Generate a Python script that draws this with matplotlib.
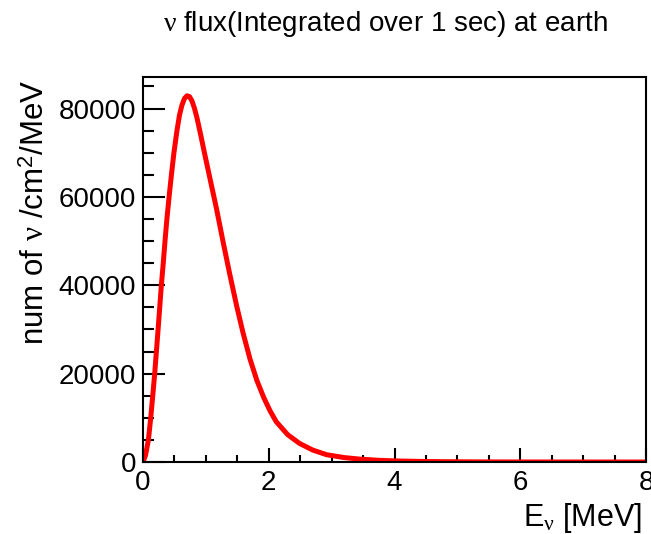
import matplotlib
matplotlib.use("Agg")
import matplotlib.pyplot as plt
from matplotlib.ticker import MultipleLocator

plt.rcParams['font.family'] = ['Liberation Sans', 'DejaVu Sans']
plt.rcParams['mathtext.fontset'] = 'custom'
plt.rcParams['mathtext.rm'] = 'Liberation Serif'
plt.rcParams['mathtext.it'] = 'Liberation Serif:italic'
plt.rcParams['mathtext.sf'] = 'Liberation Sans'

# Neutrino energy [MeV]
energy = [0.0, 0.04, 0.086, 0.123, 0.155, 0.186, 0.213, 0.24, 0.266, 0.292,
          0.322, 0.35, 0.38, 0.415, 0.452, 0.492, 0.54, 0.58, 0.62, 0.66,
          0.70, 0.74, 0.78, 0.82, 0.86, 0.92, 0.977, 1.03, 1.08, 1.168, 1.28,
          1.38, 1.49, 1.59, 1.70, 1.81, 1.92, 2.02, 2.12, 2.30, 2.49, 2.70,
          2.92, 3.20, 3.45, 3.75, 4.08, 4.5, 5.0, 5.5, 6.0, 7.0, 8.0]
# Flux: number of nu / cm^2 / MeV
flux = [0, 1500, 5000, 10000, 15000, 20000, 25000, 30000, 35000, 40000,
        45000, 50000, 55000, 60000, 65000, 70000, 75000, 78500, 80800, 82300,
        82900, 82700, 81700, 80000, 77800, 73900, 70000, 66500, 63200, 57400,
        49400, 42500, 35300, 29300, 23400, 18500, 14600, 11600, 9100, 6200,
        4200, 2700, 1650, 1000, 650, 380, 220, 110, 50, 20, 10, 2, 0]

title = r"$\mathrm{ν}$ flux(Integrated over 1 sec) at earth"
xlabel = r"E$_{\mathrm{ν}}$ [MeV]"
ylabel = r"num of $\mathrm{ν}$ /cm$^{\mathsf{2}}$/MeV"

fig = plt.figure(figsize=(6.51, 5.34), dpi=100)
ax = fig.add_axes([143/651, 1-462/534, (646-143)/651, (462-77)/534])

ax.plot(energy, flux, color='#ff0000', lw=3.6, solid_capstyle='butt',
        solid_joinstyle='round')

ax.set_xlim(0, 8)
ax.set_ylim(0, 87150)

ax.xaxis.set_major_locator(MultipleLocator(2))
ax.xaxis.set_minor_locator(MultipleLocator(0.5))
ax.yaxis.set_major_locator(MultipleLocator(20000))
ax.yaxis.set_minor_locator(MultipleLocator(5000))

ax.tick_params(axis='both', which='both', direction='in', top=False, right=False,
               labelsize=20, width=1.5, color='black')
ax.tick_params(axis='x', which='major', length=10, pad=6)
ax.tick_params(axis='x', which='minor', length=5)
ax.tick_params(axis='y', which='major', length=16, pad=5)
ax.tick_params(axis='y', which='minor', length=8)

for s in ax.spines.values():
    s.set_linewidth(1.5)

fig.text(385/651, 1-24/534, title, ha='center', va='center', fontsize=20)
fig.text(642/651, 1-526/534, xlabel, ha='right', va='baseline', fontsize=22)
fig.text(36/651, 1-80/534, ylabel, ha='center', va='top', rotation=90,
         fontsize=22.5)

fig.savefig("out.png", dpi=100)
